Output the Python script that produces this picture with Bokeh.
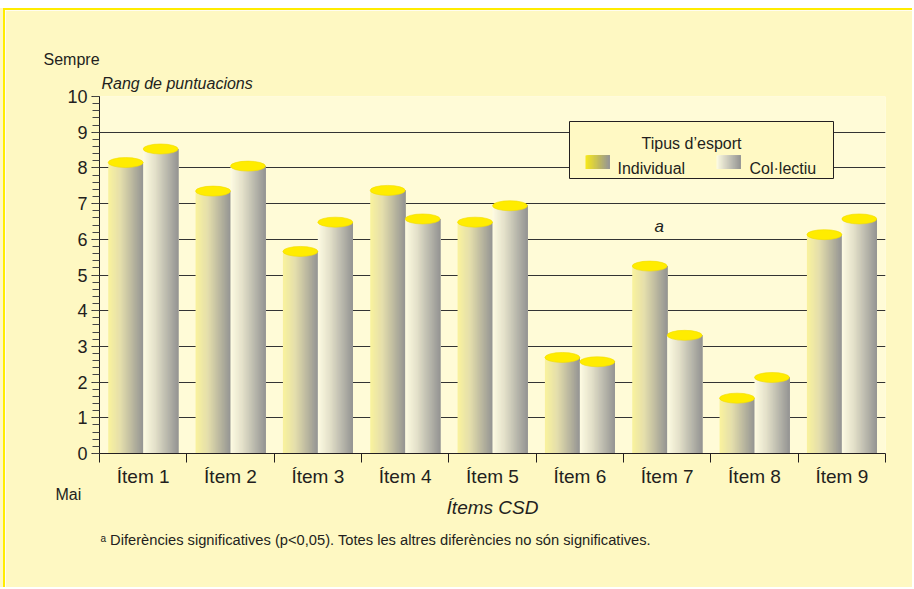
from bokeh.plotting import figure
from bokeh.models import Range1d, FixedTicker, Label, ColumnDataSource, LinearAxis, Grid, Title
from bokeh.embed import file_html
from bokeh.resources import INLINE

# ---------------- data ----------------
categories = ["Ítem 1", "Ítem 2", "Ítem 3", "Ítem 4", "Ítem 5", "Ítem 6", "Ítem 7", "Ítem 8", "Ítem 9"]
individual = [8.15, 7.35, 5.66, 7.37, 6.48, 2.69, 5.25, 1.55, 6.13]
collectiu = [8.53, 8.05, 6.48, 6.57, 6.94, 2.57, 3.31, 2.13, 6.57]
y_ticks = [0, 1, 2, 3, 4, 5, 6, 7, 8, 9, 10]
series_names = ["Individual", "Col·lectiu"]
legend_title = "Tipus d’esport"
y_title = "Rang de puntuacions"
x_title = "Ítems CSD"
top_text = "Sempre"
bottom_text = "Mai"
signif_item = "Ítem 7"
footnote = "ᵃ Diferències significatives (p<0,05). Totes les altres diferències no són significatives."

FONT = "Liberation Sans"
TXT = "#231f20"
OUTER = "#fef8c2"
INNER = "#fffbd7"
EDGE = "#ffec00"

# page placement: figure sits below an 8px white strip and a 2px yellow edge line
TOP_GAP, LEFT_GAP = 10, 5
PAGE_FL, PAGE_FT = 99, 96
W, H = 914 - LEFT_GAP, 589 - TOP_GAP
FL, FR, FT, FB = PAGE_FL - LEFT_GAP, 29, PAGE_FT - TOP_GAP, 136
FW = W - FL - FR
FH = H - FT - FB

p = figure(width=W, height=H, x_range=Range1d(0, len(categories)), y_range=Range1d(0, 10),
           output_backend="svg", toolbar_location=None, x_axis_type=None, y_axis_type=None,
           min_border_left=FL, min_border_right=FR, min_border_top=FT, min_border_bottom=FB)
p.background_fill_color = INNER
p.border_fill_color = OUTER
p.outline_line_color = None
p.styles = {"margin-top": "8px", "margin-left": "3px",
            "border-top": "2px solid " + EDGE, "border-left": "2px solid " + EDGE,
            "box-shadow": "-5px 0 0 0 " + OUTER}

# ---------------- axes ----------------
yaxis = LinearAxis(ticker=FixedTicker(ticks=y_ticks, minor_ticks=[t / 5 for t in range(0, 51)]))
yaxis.axis_line_color = TXT
yaxis.major_tick_line_color = TXT
yaxis.minor_tick_line_color = "#444"
yaxis.major_tick_out = 8
yaxis.major_tick_in = 0
yaxis.minor_tick_out = 7
yaxis.minor_tick_in = 0
yaxis.major_label_text_font = FONT
yaxis.major_label_text_font_size = "18px"
yaxis.major_label_text_color = TXT
yaxis.major_label_standoff = 4
p.add_layout(yaxis, "left")

centers = [i + 0.5 for i in range(len(categories))]
xaxis = LinearAxis(ticker=FixedTicker(ticks=centers, minor_ticks=list(range(len(categories) + 1))))
xaxis.major_label_overrides = {c: lab for c, lab in zip(centers, categories)}
xaxis.axis_line_color = TXT
xaxis.major_tick_line_color = None
xaxis.major_tick_out = 0
xaxis.major_tick_in = 0
xaxis.minor_tick_line_color = TXT
xaxis.minor_tick_out = 9
xaxis.minor_tick_in = 0
xaxis.major_label_text_font = FONT
xaxis.major_label_text_font_size = "19px"
xaxis.major_label_text_color = TXT
xaxis.major_label_standoff = 3
p.add_layout(xaxis, "below")

grid = Grid(dimension=1, ticker=yaxis.ticker, grid_line_color="#333333", grid_line_width=1)
p.add_layout(grid)

# ---------------- cylinders ----------------
BW = 0.4
OFFS = [0.1, 0.5]
NSTRIP = 36
GRAD = {
    0: [(0.0, (249, 242, 158)), (0.35, (228, 222, 172)), (1.0, (150, 150, 148))],
    1: [(0.0, (253, 251, 226)), (0.35, (226, 223, 200)), (1.0, (150, 150, 148))],
}


def grad_color(stops, t):
    for (t0, c0), (t1, c1) in zip(stops[:-1], stops[1:]):
        if t <= t1:
            f = (t - t0) / (t1 - t0) if t1 > t0 else 0
            c = [round(a + (b - a) * f) for a, b in zip(c0, c1)]
            return "#%02x%02x%02x" % tuple(c)
    return "#%02x%02x%02x" % stops[-1][1]


def strip_source(x0s, x1s, bottoms, tops, stops):
    d = dict(left=[], right=[], bottom=[], top=[], color=[])
    for x0, x1, b, t in zip(x0s, x1s, bottoms, tops):
        for k in range(NSTRIP):
            d["left"].append(x0 + (x1 - x0) * k / NSTRIP)
            d["right"].append(x1)
            d["bottom"].append(b)
            d["top"].append(t)
            d["color"].append(grad_color(stops, k / (NSTRIP - 1)))
    return ColumnDataSource(d)


for s, vals in enumerate([individual, collectiu]):
    x0s = [i + OFFS[s] for i in range(len(vals))]
    x1s = [x + BW for x in x0s]
    src = strip_source(x0s, x1s, [0] * len(vals), vals, GRAD[s])
    p.quad(left="left", right="right", bottom="bottom", top="top", fill_color="color",
           line_color=None, source=src)

for s, vals in enumerate([individual, collectiu]):
    xs = [i + OFFS[s] + BW / 2 for i in range(len(vals))]
    p.ellipse(x=xs, y=vals, width=BW, height=10, height_units="screen",
              fill_color="#ffec00", line_color="#f2dc00", line_width=0.6)

# significance mark
si = categories.index(signif_item)
p.add_layout(Label(x=si + 0.41, y=6.35, text="a", text_font=FONT, text_font_style="italic",
                   text_font_size="17px", text_color=TXT, text_align="center",
                   text_baseline="alphabetic"))

# ---------------- legend (manual, gradient swatches) ----------------
PX = FW / len(categories)   # px per category
PY = FH / 10.0              # px per unit
FRAME_BOTTOM_PAGE = PAGE_FT + FH


def dx(px):
    return (px - PAGE_FL) / PX


def dy(py):
    return (FRAME_BOTTOM_PAGE - py) / PY


p.quad(left=[dx(569)], right=[dx(833)], bottom=[dy(178)], top=[dy(121)],
       fill_color="#fff9c4", line_color=TXT, line_width=1)
sw_stops = {
    0: [(0.0, (246, 232, 30)), (1.0, (150, 150, 148))],
    1: [(0.0, (253, 251, 226)), (1.0, (150, 150, 148))],
}
sw_x = [(585, 609), (716, 740)]
for s in range(2):
    src = strip_source([dx(sw_x[s][0])], [dx(sw_x[s][1])], [dy(168.5)], [dy(155)], sw_stops[s])
    p.quad(left="left", right="right", bottom="bottom", top="top", fill_color="color",
           line_color=None, source=src)

p.add_layout(Label(x=dx(691), y=dy(142.5), text=legend_title, text_font=FONT,
                   text_font_size="16px", text_color=TXT, text_align="center",
                   text_baseline="alphabetic"))
for s, lx in enumerate([617, 749]):
    p.add_layout(Label(x=dx(lx), y=dy(167.7), text=series_names[s], text_font=FONT,
                       text_font_size="16px", text_color=TXT, text_align="left",
                       text_baseline="alphabetic"))

# ---------------- outside texts (titles) ----------------


def add_title(text, side, size, offset, align="left", italic=False, standoff=0, valign="bottom"):
    t = Title(text=text, align=align, offset=offset, standoff=standoff, text_font=FONT,
              text_font_size=size, text_font_style="italic" if italic else "normal",
              text_color=TXT, vertical_align=valign)
    p.add_layout(t, side)


add_title(y_title, "above", "16px", 2, italic=True, standoff=6, valign="top")
add_title(top_text, "above", "16px", -56, standoff=3, valign="top")
add_title(bottom_text, "below", "16px", -44, standoff=-11)
add_title(x_title, "below", "19px", 14, align="center", italic=True, standoff=-5)
add_title(footnote, "below", "14.7px", 1, standoff=28)

open("out.html", "w").write(file_html(p, INLINE))
